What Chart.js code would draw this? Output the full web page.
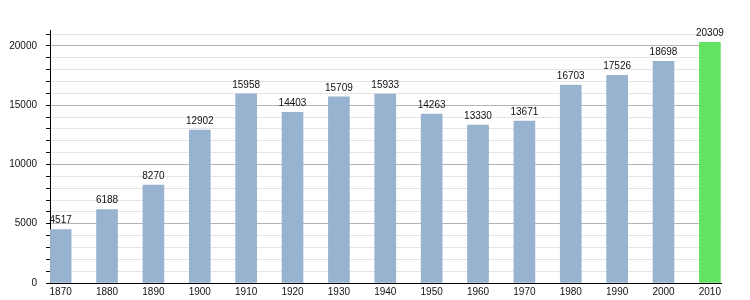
<!DOCTYPE html>
<html>
<head>
<meta charset="utf-8">
<script src="https://cdn.jsdelivr.net/npm/chart.js@4"></script>
<style>
  html, body { margin: 0; padding: 0; background: #fff; }
  #wrap { width: 750px; height: 300px; }
</style>
</head>
<body>
<div id="wrap"><canvas id="popChart"></canvas></div>
<script>
// population par recensement
const years = [1870, 1880, 1890, 1900, 1910, 1920, 1930, 1940, 1950, 1960, 1970, 1980, 1990, 2000, 2010];
const population = [4517, 6188, 8270, 12902, 15958, 14403, 15709, 15933, 14263, 13330, 13671, 16703, 17526, 18698, 20309];
const barColors = ['#97b3cf', '#97b3cf', '#97b3cf', '#97b3cf', '#97b3cf', '#97b3cf', '#97b3cf', '#97b3cf',
  '#97b3cf', '#97b3cf', '#97b3cf', '#97b3cf', '#97b3cf', '#97b3cf', '#64e264'];
const yTickLabels = [0, 5000, 10000, 15000, 20000];

const FONT = { family: 'Liberation Sans, Arial, sans-serif', size: 10 };

// valeurs au-dessus des barres
const valueLabels = {
    id: 'valueLabels',
    afterDatasetsDraw(chart) {
        const ctx = chart.ctx;
        const meta = chart.getDatasetMeta(0);
        ctx.save();
        ctx.font = FONT.size + 'px ' + FONT.family;
        ctx.fillStyle = '#111';
        ctx.textAlign = 'center';
        ctx.textBaseline = 'bottom';
        meta.data.forEach(function (bar, i) {
            ctx.fillText(String(population[i]), bar.x, bar.y - 4);
        });
        ctx.restore();
    }
};

window.addEventListener('DOMContentLoaded', function () {
    const ctx = document.getElementById('popChart').getContext('2d');
    new Chart(ctx, {
        type: 'bar',
        data: {
            datasets: [{
                data: years.map((y, i) => ({ x: y, y: population[i] })),
                backgroundColor: barColors,
                borderWidth: 0,
                barThickness: 21
            }]
        },
        options: {
            responsive: true,
            maintainAspectRatio: false,
            animation: false,
            layout: { padding: { top: 30, right: 29, left: 0, bottom: 0 } },
            plugins: {
                legend: { display: false },
                tooltip: { enabled: false }
            },
            scales: {
                x: {
                    type: 'linear',
                    offset: false,
                    min: 1867.7,
                    max: 2012.4,
                    afterBuildTicks: s => { s.ticks = years.map(v => ({ value: v })); },
                    afterFit: s => { s.height = 17; },
                    grid: { display: true, drawOnChartArea: false, drawTicks: false },
                    border: { color: '#000', width: 1 },
                    ticks: { font: FONT, color: '#111', padding: 3, maxRotation: 0, autoSkip: false, callback: v => String(v) }
                },
                y: {
                    min: 0,
                    max: 21350,
                    afterBuildTicks: s => {
                        const t = [];
                        for (let v = 0; v <= 21000; v += 1000) t.push({ value: v });
                        s.ticks = t;
                    },
                    afterFit: s => { s.width = 50; },
                    border: { color: '#000', width: 1 },
                    grid: {
                        color: c => (c.tick && yTickLabels.includes(c.tick.value)) ? '#b4b4b4' : '#e4e4e4',
                        tickColor: '#000',
                        tickLength: 4
                    },
                    ticks: {
                        font: FONT,
                        color: '#111',
                        padding: 9,
                        autoSkip: false,
                        callback: v => yTickLabels.includes(v) ? String(v) : ''
                    }
                }
            }
        },
        plugins: [valueLabels]
    });
});
</script>
</body>
</html>
